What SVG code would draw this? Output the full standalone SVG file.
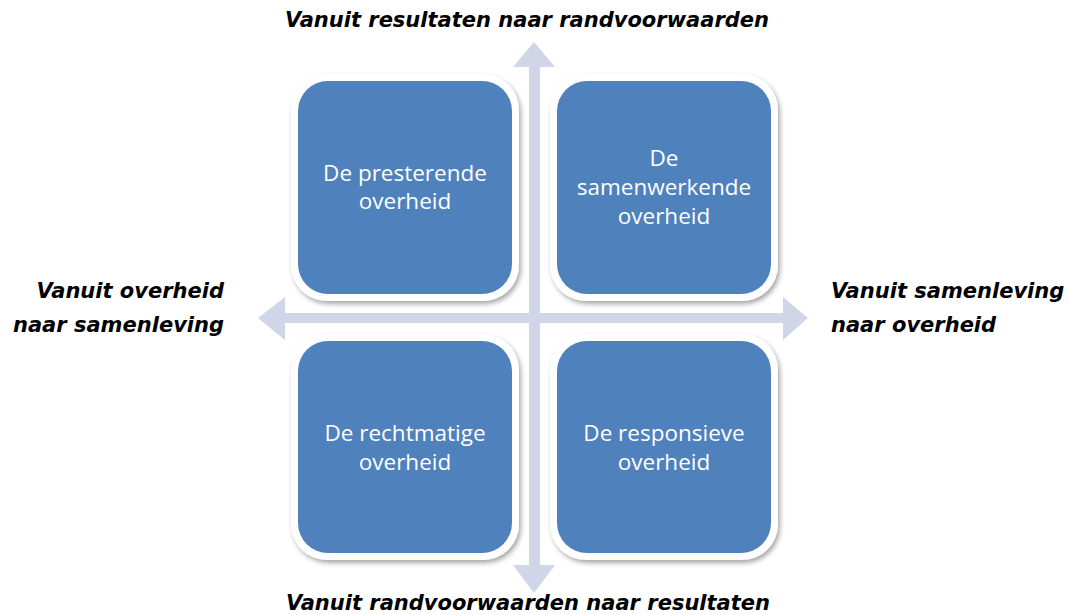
<svg xmlns="http://www.w3.org/2000/svg" width="1070" height="615" viewBox="0 0 1070 615">
<style>
.axis{fill:#D0D6E7;}
.frame{fill:#FFFFFF;filter:url(#sh);}
.box{fill:#4F81BD;}
.lbl{font-family:"Open Sans","Noto Sans",sans-serif;font-size:22.5px;fill:#FFFFFF;text-anchor:middle;}
.ax{font-family:"DejaVu Sans",Verdana,sans-serif;font-size:21px;font-weight:bold;font-style:italic;fill:#000000;}
</style>
<defs>
<filter id="sh" x="-10%" y="-10%" width="125%" height="125%">
<feDropShadow dx="2" dy="3" stdDeviation="2.5" flood-color="#000000" flood-opacity="0.35"/>
</filter>
</defs>
<rect width="1070" height="615" fill="#FFFFFF"/>
<g id="connectors">
<polygon class="axis" points="534,42 555,67 540,67 540,565 555,565 534,593 513,565 529,565 529,67 513,67"/>
<polygon class="axis" points="258,318 285,297 285,313 783,313 783,297 808,318 783,340 783,323 285,323 285,340"/>
</g>
<g id="node-presterende">
<rect class="frame" x="291" y="74" width="228" height="227" rx="36"/>
<rect class="box" x="298" y="81" width="214" height="213" rx="30"/>
<text class="lbl" x="405" y="181">De presterende</text>
<text class="lbl" x="405" y="209">overheid</text>
</g>
<g id="node-samenwerkende">
<rect class="frame" x="550" y="74" width="228" height="227" rx="36"/>
<rect class="box" x="557" y="81" width="214" height="213" rx="30"/>
<text class="lbl" x="664" y="166">De</text>
<text class="lbl" x="664" y="195">samenwerkende</text>
<text class="lbl" x="664" y="224">overheid</text>
</g>
<g id="node-rechtmatige">
<rect class="frame" x="291" y="334" width="228" height="226" rx="36"/>
<rect class="box" x="298" y="341" width="214" height="212" rx="30"/>
<text class="lbl" x="405" y="441">De rechtmatige</text>
<text class="lbl" x="405" y="470">overheid</text>
</g>
<g id="node-responsieve">
<rect class="frame" x="550" y="334" width="228" height="226" rx="36"/>
<rect class="box" x="557" y="341" width="214" height="212" rx="30"/>
<text class="lbl" x="664" y="441">De responsieve</text>
<text class="lbl" x="664" y="470">overheid</text>
</g>
<g id="labels">
<text class="ax" x="527" y="27" text-anchor="middle">Vanuit resultaten naar randvoorwaarden</text>
<text class="ax" x="528" y="610" text-anchor="middle">Vanuit randvoorwaarden naar resultaten</text>
<text class="ax" x="224" y="298" text-anchor="end">Vanuit overheid</text>
<text class="ax" x="224" y="332" text-anchor="end">naar samenleving</text>
<text class="ax" x="831" y="298">Vanuit samenleving</text>
<text class="ax" x="831" y="332">naar overheid</text>
</g>
</svg>
